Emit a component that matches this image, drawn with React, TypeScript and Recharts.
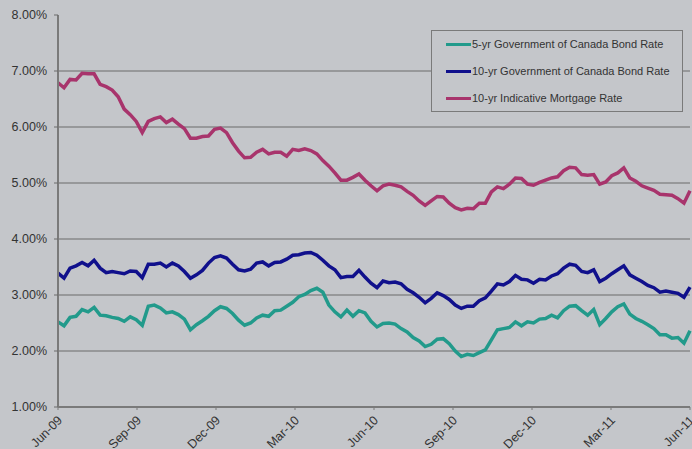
import React from "react";
import { LineChart, Line, XAxis, YAxis, CartesianGrid } from "recharts";

// Weekly observations, Jun-2009 .. Jun-2011 (index = week number)
const fiveYr: number[] = [
  2.52, 2.45, 2.60, 2.62, 2.74, 2.70, 2.78, 2.64, 2.63, 2.60,
  2.58, 2.53, 2.61, 2.56, 2.46, 2.80, 2.82, 2.77, 2.68, 2.70,
  2.65, 2.57, 2.38, 2.47, 2.54, 2.62, 2.72, 2.79, 2.76, 2.67,
  2.55, 2.46, 2.50, 2.59, 2.64, 2.62, 2.72, 2.73, 2.80, 2.87,
  2.97, 3.01, 3.08, 3.12, 3.05, 2.82, 2.70, 2.61, 2.73, 2.62,
  2.72, 2.68, 2.53, 2.43, 2.49, 2.50, 2.48, 2.40, 2.34, 2.24,
  2.18, 2.08, 2.12, 2.21, 2.22, 2.13, 2.00, 1.90, 1.94, 1.92,
  1.97, 2.02, 2.20, 2.38, 2.40, 2.42, 2.52, 2.45, 2.52, 2.50,
  2.57, 2.58, 2.64, 2.59, 2.72, 2.80, 2.81, 2.72, 2.64, 2.74,
  2.47, 2.58, 2.70, 2.79, 2.84, 2.66, 2.58, 2.53, 2.47, 2.40,
  2.29, 2.29, 2.23, 2.24, 2.14, 2.36,
];

const tenYr: number[] = [
  3.39, 3.30, 3.48, 3.52, 3.58, 3.52, 3.62, 3.48, 3.40, 3.42,
  3.40, 3.38, 3.43, 3.42, 3.31, 3.55, 3.55, 3.57, 3.50, 3.57,
  3.52, 3.42, 3.30, 3.36, 3.44, 3.57, 3.67, 3.70, 3.66, 3.55,
  3.45, 3.43, 3.46, 3.57, 3.59, 3.52, 3.58, 3.59, 3.64, 3.71,
  3.72, 3.75, 3.76, 3.71, 3.62, 3.52, 3.45, 3.31, 3.33, 3.33,
  3.44, 3.32, 3.21, 3.13, 3.25, 3.22, 3.23, 3.20, 3.10, 3.04,
  2.96, 2.86, 2.94, 3.04, 2.99, 2.92, 2.82, 2.76, 2.80, 2.80,
  2.90, 2.95, 3.07, 3.20, 3.18, 3.24, 3.35, 3.28, 3.27, 3.21,
  3.28, 3.27, 3.34, 3.38, 3.48, 3.55, 3.53, 3.42, 3.40, 3.45,
  3.24, 3.30, 3.38, 3.45, 3.52, 3.36, 3.30, 3.24, 3.17, 3.13,
  3.05, 3.07, 3.05, 3.03, 2.96, 3.14,
];

const mortgage: number[] = [
  6.79, 6.70, 6.85, 6.84, 6.96, 6.95, 6.95, 6.76, 6.72, 6.66,
  6.54, 6.32, 6.22, 6.10, 5.90, 6.10, 6.15, 6.18, 6.08, 6.14,
  6.05, 5.97, 5.80, 5.80, 5.83, 5.84, 5.96, 5.98, 5.90, 5.72,
  5.57, 5.45, 5.46, 5.55, 5.60, 5.52, 5.55, 5.55, 5.48, 5.60,
  5.58, 5.61, 5.58, 5.52, 5.40, 5.30, 5.18, 5.05, 5.05, 5.10,
  5.16, 5.05, 4.95, 4.86, 4.95, 4.98, 4.96, 4.93, 4.85, 4.78,
  4.68, 4.60, 4.68, 4.76, 4.75, 4.64, 4.56, 4.52, 4.55, 4.54,
  4.64, 4.64, 4.84, 4.93, 4.90, 4.98, 5.09, 5.08, 4.98, 4.96,
  5.01, 5.05, 5.09, 5.11, 5.22, 5.28, 5.27, 5.15, 5.14, 5.15,
  4.98, 5.02, 5.13, 5.18, 5.27, 5.09, 5.03, 4.95, 4.91, 4.87,
  4.80, 4.79, 4.78, 4.72, 4.64, 4.86,
];

// Quarter tick positions (in weeks) and labels
const quarterWeeks: number[] = [0, 13.125, 26.25, 39.375, 52.5, 65.625, 78.75, 91.875, 105];
const quarterLabels: string[] = ["Jun-09", "Sep-09", "Dec-09", "Mar-10", "Jun-10", "Sep-10", "Dec-10", "Mar-11", "Jun-11"];
const yTicks: number[] = [1, 2, 3, 4, 5, 6, 7, 8];
const gridValues: number[] = [2, 3, 4, 5, 6, 7];

const seriesKeys = ["five", "ten", "mort"];
const seriesNames = [
  "5-yr Government of Canada Bond Rate",
  "10-yr Government of Canada Bond Rate",
  "10-yr Indicative Mortgage Rate",
];
const seriesColors = ["#229a8b", "#10108c", "#a8346c"];

const data = fiveYr.map((v, i) => ({
  week: i,
  five: v,
  ten: tenYr[i],
  mort: mortgage[i],
}));

const BG = "#c4c6ca";
const FONT = "'Liberation Sans', Arial, sans-serif";

const XTick = (props: any) => {
  const { x, y, payload } = props;
  const idx = quarterWeeks.indexOf(payload.value);
  const label = idx >= 0 ? quarterLabels[idx] : "";
  return (
    <text
      x={x + 5}
      y={y + 9}
      textAnchor="end"
      fill="#333"
      fontSize={12.5}
      fontFamily={FONT}
      transform={`rotate(-45, ${x + 5}, ${y + 9})`}
    >
      {label}
    </text>
  );
};

export default function App() {
  return (
    <div
      style={{
        position: "absolute",
        left: 0,
        top: 0,
        width: 692,
        height: 449,
        background: BG,
        overflow: "hidden",
      }}
    >
      <LineChart
        width={692}
        height={449}
        data={data}
        margin={{ top: 15, right: 2, bottom: 0, left: 0 }}
      >
        <CartesianGrid
          vertical={false}
          horizontalValues={gridValues}
          stroke="#6a6a6a"
          strokeWidth={1}
        />
        <XAxis
          dataKey="week"
          type="number"
          domain={[0, 105]}
          ticks={quarterWeeks}
          interval={0}
          height={42}
          tick={<XTick />}
          tickSize={3}
          tickLine={{ stroke: "#7a7a7a" }}
          axisLine={{ stroke: "#7a7a7a", strokeWidth: 2 }}
        />
        <YAxis
          type="number"
          domain={[1, 8]}
          ticks={yTicks}
          interval={0}
          width={58}
          tickSize={4}
          tickMargin={7}
          tickFormatter={(v: number) => `${v.toFixed(2)}%`}
          tick={{ fill: "#333", fontSize: 12.5, fontFamily: FONT }}
          tickLine={{ stroke: "#6a6a6a" }}
          axisLine={{ stroke: "#7a7a7a", strokeWidth: 2 }}
        />
        {seriesKeys.map((k, i) => (
          <Line
            key={k}
            type="linear"
            dataKey={k}
            name={seriesNames[i]}
            stroke={seriesColors[i]}
            strokeWidth={3.5}
            dot={false}
            isAnimationActive={false}
          />
        ))}
      </LineChart>
      <div
        style={{
          position: "absolute",
          left: 431,
          top: 30,
          width: 250,
          height: 80,
          border: "1px solid #7a7a7a",
          background: BG,
          fontFamily: FONT,
          fontSize: 11,
          color: "#333",
        }}
      >
        {seriesNames.map((name, i) => (
          <div
            key={name}
            style={{
              position: "absolute",
              left: 14,
              top: 6 + i * 27,
              height: 14,
              display: "flex",
              alignItems: "center",
              whiteSpace: "nowrap",
            }}
          >
            <span
              style={{
                display: "inline-block",
                width: 25,
                height: 3,
                background: seriesColors[i],
                marginRight: 1,
              }}
            />
            <span>{name}</span>
          </div>
        ))}
      </div>
    </div>
  );
}
